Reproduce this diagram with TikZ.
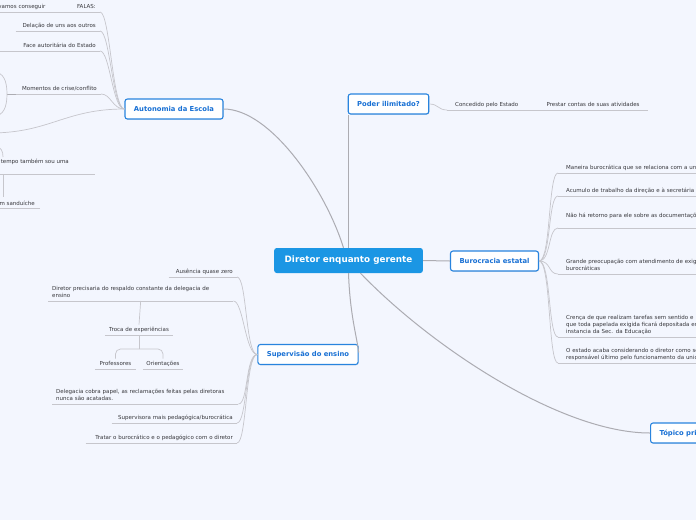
\documentclass[tikz,border=0pt]{standalone}
\usepackage{fontspec}
\setmainfont{DejaVu Sans}
\usetikzlibrary{positioning,shadows}
\definecolor{mapbg}{RGB}{243,246,254}
\definecolor{mapblue}{RGB}{27,150,228}
\definecolor{topicblue}{RGB}{24,112,212}
\definecolor{topicedge}{RGB}{40,132,222}
\definecolor{trunkgray}{RGB}{172,172,178}
\definecolor{branchgray}{RGB}{198,198,204}
\definecolor{leafgray}{RGB}{55,55,60}
\newcommand{\leaffont}{\fontsize{5.5}{7.1}\selectfont}

\begin{document}
\begin{tikzpicture}[x=1pt, y=-1pt,
  central/.style={rectangle, rounded corners=2.5pt, fill=mapblue, text=white,
    font=\fontsize{8.8}{10}\selectfont\bfseries, inner xsep=10.5pt, minimum height=25pt},
  topic/.style={rectangle, rounded corners=2.5pt, draw=topicedge, line width=1.1pt, fill=white,
    text=topicblue, font=\fontsize{6.8}{8}\selectfont\bfseries, inner xsep=9pt, minimum height=20pt,
    drop shadow={opacity=0.15, shadow xshift=0.6pt, shadow yshift=-0.8pt}},
  leaf/.style={font=\leaffont, text=leafgray, inner xsep=4pt, inner ysep=1.4pt, execute at end node=\strut},
  rleaf/.style={leaf, inner xsep=8pt, align=left},
  cuttext/.style={font=\leaffont, text=leafgray, inner sep=0pt},
  trunk/.style={draw=trunkgray, line width=1pt},
  branch/.style={draw=branchgray, line width=0.7pt}]

\path[use as bounding box, fill=mapbg] (0,0) rectangle (696,520);
\clip (0,0) rectangle (696,520);

% === Central topic and main topics ===
\node[central] (cen) at (348.5,260.5) {Diretor enquanto gerente};
\node[topic] (aut) at (174,109) {Autonomia da Escola};
\node[topic] (pod) at (388.5,104) {Poder ilimitado?};
\node[topic] (bur) at (494.5,261) {Burocracia estatal};
\node[topic] (sup) at (308,354.5) {Supervisão do ensino};
\node[topic, anchor=west] (top) at (650,433) {Tópico principal};

\draw[trunk] ([xshift=-5pt]cen.north) .. controls +(-18,-58) and +(47,0) .. (aut.east);
\draw[trunk] (cen.north) -- (cen.north |- pod.south);
\draw[trunk] (cen.east) -- (bur.west);
\draw[trunk] (cen.south) .. controls +(1.5,42) and +(-2,-17) .. ([yshift=2pt]sup.east);
\draw[trunk] ([xshift=12pt]cen.south) .. controls +(69,72) and +(-90,0) .. (top.west);

% === Autonomia da Escola ===
\node[leaf, anchor=south east, text width=42pt, align=right] (fal) at (100,12) {FALAS:};
\node[leaf, anchor=south east, text width=56pt, align=right] (van) at (fal.south west) {vamos conseguir};
\node[leaf, anchor=south east, text width=76pt, align=right] (del) at (100,31) {Delação de uns aos outros};
\node[leaf, anchor=south east, text width=104pt, align=right] (fac) at (100,51) {Face autoritária do Estado};
\node[leaf, anchor=south east, text width=77pt, align=right] (mom) at (101,94) {Momentos de crise/conflito};

\foreach \n in {fal,del,fac,mom}
  \draw[branch] (aut.west) .. controls +(-12,0) and +(10,0) .. (\n.south east);
\coordinate (offleft) at (-10,133);
\draw[branch] (aut.west) .. controls +(-60,0) and +(60,0) .. (offleft);

% children of Momentos (off the left edge)
\coordinate (momfork) at (7,94);
\coordinate (momup) at (-5,72);
\coordinate (momdown) at (-5,116);
\draw[trunkgray, line width=0.8pt] (mom.south west) -- (momfork);
\draw[branch] (momfork) .. controls +(0,-14) and +(8,1) .. (momup);
\draw[branch] (momfork) .. controls +(0,14) and +(8,-1) .. (momdown);

% cut-off nodes at the left edge
\node[cuttext, anchor=base east] (tem) at (69,163.5) {tempo também sou uma};
\coordinate (temin) at (-4,147);
\coordinate (temtop) at (3,157);
\coordinate (temL) at (-10,174);
\coordinate (temR) at (95,174);
\coordinate (temdrop) at (3,174);
\draw[branch] (temin) .. controls +(5,0) and +(0,-6) .. (temtop);
\draw[branch] (temL) -- (temR);
\node[cuttext, anchor=base east] (san) at (35,205) {m sanduíche};
\coordinate (santop) at (3,197);
\coordinate (sanL) at (-10,208.5);
\coordinate (sanR) at (40,208.5);
\draw[branch] (temdrop) -- (santop);
\draw[branch] (sanL) -- (sanR);

% === Poder ilimitado? ===
\node[rleaf, anchor=south west, text width=77pt] (con) at (447,110) {Concedido pelo Estado};
\node[rleaf, anchor=south west, text width=95pt, inner xsep=6pt] (pre) at (con.south east) {Prestar contas de suas atividades};
\draw[branch] (pod.east) .. controls +(9,0) and +(-9,0) .. (con.south west);

% === Burocracia estatal ===
\node[rleaf, anchor=south west, text width=220pt] (man) at (558,173) {Maneira burocrática que se relaciona com a unidade};
\node[rleaf, anchor=south west, text width=220pt] (acu) at (558,196) {Acumulo de trabalho da direção e à secretária};
\node[rleaf, anchor=south west, text width=220pt] (nao) at (558,228) {Não há retorno para ele sobre as documentações\\[4pt]};
\node[rleaf, anchor=south west, text width=220pt] (gra) at (558,274) {Grande preocupação com atendimento de exigências\\burocráticas};
\node[rleaf, anchor=south west, text width=220pt] (cre) at (558,337) {Crença de que realizam tarefas sem sentido e\\que toda papelada exigida ficará depositada em\\instancia da Sec. da Educação};
\node[rleaf, anchor=south west, text width=220pt] (oes) at (558,363) {O estado acaba considerando o diretor como se\\responsável último pelo funcionamento da unidade};

\foreach \n in {man,acu,nao,gra,cre,oes}
  \draw[branch] (bur.east) .. controls +(12,0) and +(-10,0) .. (\n.south west);

% === Supervisão do ensino ===
\node[leaf, anchor=south east, text width=60pt, align=right] (aus) at (237,277) {Ausência quase zero};
\node[leaf, anchor=south west, text width=177pt, align=left] (dir) at (48,301) {Diretor precisaria do respaldo constante da delegacia de\\ensino};
\node[leaf, anchor=south, text width=62pt, inner xsep=3pt, align=center] (tro) at (139,335) {Troca de experiências};
\node[leaf, anchor=south, text width=35pt, inner xsep=3pt, align=center] (pro) at (115.5,369) {Professores};
\node[leaf, anchor=south, text width=34pt, inner xsep=3pt, align=center] (ori) at (163,369) {Orientações};
\node[leaf, anchor=south west, text width=178pt, align=left] (dlg) at (52,404) {Delegacia cobra papel, as reclamações feitas pelas diretoras\\nunca são acatadas.};
\node[leaf, anchor=south east, text width=117pt, align=right] (svp) at (237,423) {Supervisora mais pedagógica/burocrática};
\node[leaf, anchor=south east, text width=143pt, align=right] (tra) at (237,443) {Tratar o burocrático e o pedagógico com o diretor};

\foreach \n in {aus,dir,dlg,svp,tra}
  \draw[branch] (sup.west) .. controls +(-12,0) and +(10,0) .. (\n.south east);
\draw[branch] (dir.south) -- (tro.north);
\coordinate (trofork) at ([yshift=-14pt]tro.south);
\draw[branch] (tro.south) -- (trofork);
\draw[branch, rounded corners=5pt] (trofork) -| (pro.north);
\draw[branch, rounded corners=5pt] (trofork) -| (ori.north);

% underlines of the leaf topics
\foreach \n in {fal,van,del,fac,mom,con,pre,man,acu,nao,gra,cre,oes,aus,dir,tro,pro,ori,dlg,svp,tra}
  \draw[branch] (\n.south west) -- (\n.south east);

\end{tikzpicture}
\end{document}
